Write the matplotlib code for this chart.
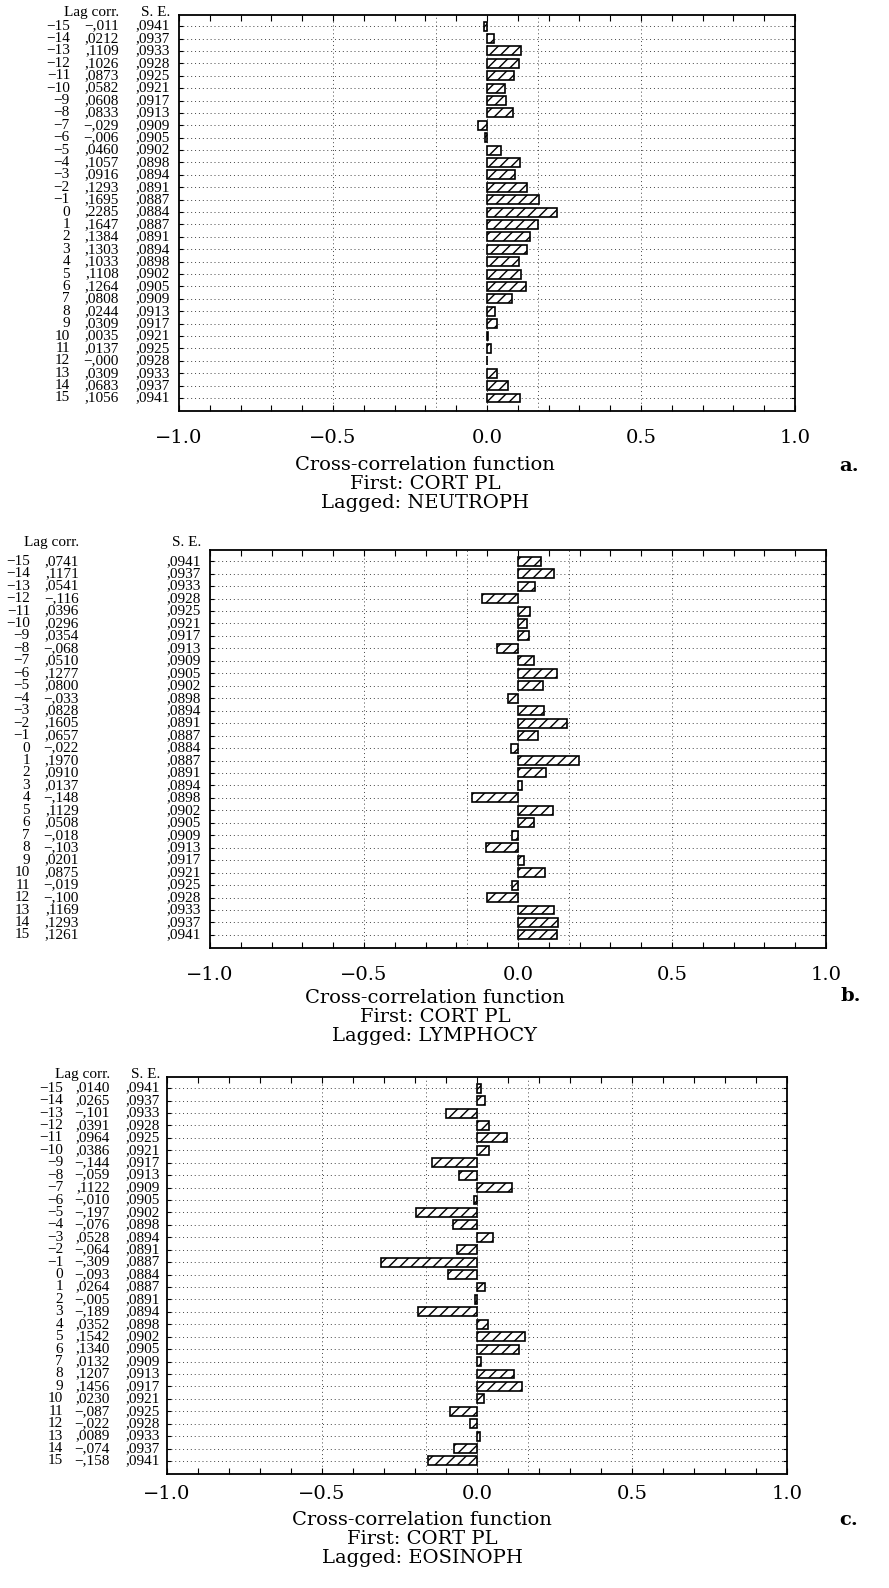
import numpy as np
import matplotlib
matplotlib.use("Agg")
import matplotlib.pyplot as plt
from matplotlib.transforms import blended_transform_factory

# ---------------- data ----------------
lags = list(range(-15, 16))
se = [0.0941, 0.0937, 0.0933, 0.0928, 0.0925, 0.0921, 0.0917, 0.0913, 0.0909,
      0.0905, 0.0902, 0.0898, 0.0894, 0.0891, 0.0887, 0.0884, 0.0887, 0.0891,
      0.0894, 0.0898, 0.0902, 0.0905, 0.0909, 0.0913, 0.0917, 0.0921, 0.0925,
      0.0928, 0.0933, 0.0937, 0.0941]
corr_neutroph = [-0.011, 0.0212, 0.1109, 0.1026, 0.0873, 0.0582, 0.0608, 0.0833,
                 -0.029, -0.006, 0.0460, 0.1057, 0.0916, 0.1293, 0.1695, 0.2285,
                 0.1647, 0.1384, 0.1303, 0.1033, 0.1108, 0.1264, 0.0808, 0.0244,
                 0.0309, 0.0035, 0.0137, -0.0, 0.0309, 0.0683, 0.1056]
corr_lymphocy = [0.0741, 0.1171, 0.0541, -0.116, 0.0396, 0.0296, 0.0354, -0.068,
                 0.0510, 0.1277, 0.0800, -0.033, 0.0828, 0.1605, 0.0657, -0.022,
                 0.1970, 0.0910, 0.0137, -0.148, 0.1129, 0.0508, -0.018, -0.103,
                 0.0201, 0.0875, -0.019, -0.100, 0.1169, 0.1293, 0.1261]
corr_eosinoph = [0.0140, 0.0265, -0.101, 0.0391, 0.0964, 0.0386, -0.144, -0.059,
                 0.1122, -0.010, -0.197, -0.076, 0.0528, -0.064, -0.309, -0.093,
                 0.0264, -0.005, -0.189, 0.0352, 0.1542, 0.1340, 0.0132, 0.1207,
                 0.1456, 0.0230, -0.087, -0.022, 0.0089, -0.074, -0.158]
first_name = "CORT PL"
lagged_names = ["NEUTROPH", "LYMPHOCY", "EOSINOPH"]
panel_letters = ["a.", "b.", "c."]
xtick_values = [-1.0, -0.5, 0.0, 0.5, 1.0]
grid_values = [-0.5, 0.0, 0.5]
conf_limit = 0.166

series = [corr_neutroph, corr_lymphocy, corr_eosinoph]

# ---------------- layout (pixels) ----------------
W, H = 889, 1588
layout = [
    dict(left=179, right=795, top=15, bottom=411, lag_x=70, corr_x=119, se_x=170,
         head_y=-16.1, pad=13, title_x=425, title_y=[465, 484, 503], letter=(849, 466)),
    dict(left=210, right=826, top=550, bottom=948, lag_x=30, corr_x=79, se_x=201,
         head_y=-16.5, pad=13, title_x=435, title_y=[998, 1017, 1036], letter=(851, 996)),
    dict(left=167, right=787, top=1077, bottom=1474, lag_x=63, corr_x=110, se_x=160,
         head_y=-16.1, pad=8, title_x=422, title_y=[1520, 1539, 1558], letter=(849, 1520)),
]

TABLE_FONT = ["Liberation Serif", "DejaVu Serif"]
LABEL_FONT = ["DejaVu Serif"]
plt.rcParams["font.family"] = TABLE_FONT
plt.rcParams["hatch.linewidth"] = 1.0
MINUS = "\u2212"


def fmt_lag(l):
    return f"{MINUS}{-l}" if l < 0 else str(l)


def fmt_corr(v):
    if np.signbit(v):
        return f"{MINUS},{int(round(abs(v) * 1000)):03d}"
    return f",{int(round(v * 10000)):04d}"


def fmt_se(s):
    return f",{int(round(s * 10000)):04d}"


def fmt_tick(v):
    s = f"{abs(v):.1f}"
    return (MINUS + s) if v < 0 else s


fig = plt.figure(figsize=(W / 100, H / 100), dpi=100)
dot = (0, (1, 3))

for k, (vals, lay) in enumerate(zip(series, layout)):
    ax = fig.add_axes([lay["left"] / W, 1 - lay["bottom"] / H,
                       (lay["right"] - lay["left"]) / W,
                       (lay["bottom"] - lay["top"]) / H])
    ax.set_xlim(-1.0, 1.0)
    ax.set_ylim(16.05, -15.9)

    # horizontal dotted row lines
    for l in lags:
        ax.axhline(l, color="#444444", lw=0.7, ls=dot, zorder=1)
    # vertical dotted grid & confidence limits
    for g in grid_values:
        ax.axvline(g, color="#444444", lw=0.7, ls=dot, zorder=1)
    for c in (-conf_limit, conf_limit):
        ax.axvline(c, color="#444444", lw=0.7, ls=dot, zorder=1)

    ax.barh(lags, vals, height=0.72, left=0, color="white", edgecolor="black",
            hatch="///", linewidth=1.2, zorder=3)

    ax.set_xticks(xtick_values)
    ax.set_xticklabels([fmt_tick(v) for v in xtick_values], fontsize=14,
                       family=LABEL_FONT)
    ax.set_xticks(np.arange(-1.0, 1.001, 0.1), minor=True)
    ax.tick_params(axis="x", which="both", direction="in", top=True, bottom=True,
                   length=4, width=0.8, pad=lay["pad"])
    ax.set_yticks(lags)
    ax.set_yticklabels([])
    ax.tick_params(axis="y", which="both", direction="in", left=True, right=True,
                   length=3, width=0.8)
    for sp in ax.spines.values():
        sp.set_linewidth(1.3)

    # table text
    tr = blended_transform_factory(fig.transFigure, ax.transData)
    fs = 11
    ax.text(lay["corr_x"] / W, lay["head_y"], "Lag corr.", transform=tr,
            ha="right", va="center", fontsize=fs)
    ax.text(lay["se_x"] / W, lay["head_y"], "S. E.", transform=tr,
            ha="right", va="center", fontsize=fs)
    for l, v, s in zip(lags, vals, se):
        ax.text(lay["lag_x"] / W, l, fmt_lag(l), transform=tr, ha="right",
                va="center", fontsize=fs)
        ax.text(lay["corr_x"] / W, l, fmt_corr(v), transform=tr, ha="right",
                va="center", fontsize=fs)
        ax.text(lay["se_x"] / W, l, fmt_se(s), transform=tr, ha="right",
                va="center", fontsize=fs)

    # titles
    lines = ["Cross-correlation function", f"First: {first_name}",
             f"Lagged: {lagged_names[k]}"]
    for txt, yy in zip(lines, lay["title_y"]):
        fig.text(lay["title_x"] / W, 1 - yy / H, txt, ha="center", va="center",
                 fontsize=14, family=LABEL_FONT)
    fig.text(lay["letter"][0] / W, 1 - lay["letter"][1] / H, panel_letters[k],
             ha="center", va="center", fontsize=14, fontweight="bold",
             family=LABEL_FONT)

fig.savefig("out.png", dpi=100)
